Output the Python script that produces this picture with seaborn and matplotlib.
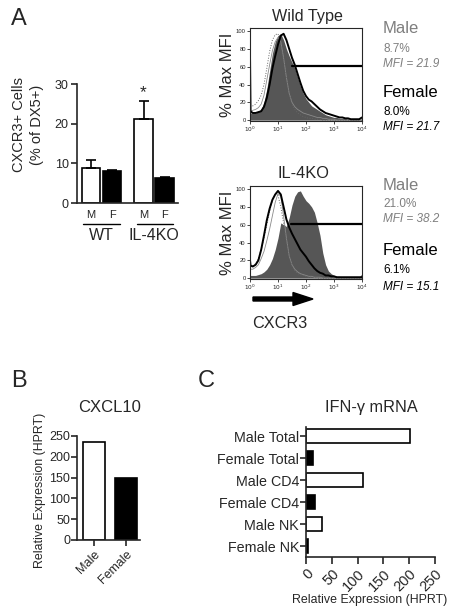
import numpy as np
import matplotlib
matplotlib.use('Agg')
import matplotlib.pyplot as plt
from matplotlib.patches import FancyArrow
import seaborn as sns

# ---- data ------------------------------------------------------------------
# A: CXCR3+ NK cells (% of DX5+)
a_sex = ['M', 'F', 'M', 'F']
cxcr3_pct = [8.8, 8.1, 21.1, 6.2]
cxcr3_sem = [2.0, 0.3, 4.7, 0.4]

# A: flow histograms, x = log10 fluorescence, y = % of max
log_mfi = [0.0, 0.02, 0.1, 0.2, 0.3, 0.4, 0.5, 0.6, 0.7, 0.8, 0.9, 1.0, 1.1, 1.2,
           1.3, 1.4, 1.5, 1.6, 1.7, 1.8, 1.9, 2.0, 2.1, 2.2, 2.3, 2.4, 2.5, 2.6,
           2.7, 2.8, 2.9, 3.0, 3.1, 3.2, 3.3, 3.4, 3.5, 3.6, 3.7, 3.8, 3.9, 4.0]
wt_male = [8, 8, 8, 8, 10, 12, 20, 35, 55, 75, 88, 95, 97, 90, 80, 72, 65, 58, 48, 38, 30,
           24, 20, 16, 14, 12, 10, 8, 6, 5, 4, 3, 3, 2, 2, 2, 1, 1, 1, 1, 1, 1]
wt_female = [73, 10, 8, 8, 9, 10, 15, 25, 40, 58, 72, 85, 95, 97, 90, 80, 70, 62, 52, 42, 33,
             27, 23, 21, 18, 15, 12, 10, 8, 7, 6, 5, 4, 3, 3, 2, 2, 1, 1, 1, 1, 3]
wt_iso_dot = [15, 15, 16, 18, 22, 28, 40, 58, 77, 90, 96, 97, 85, 68, 48, 30, 18, 12, 8, 6, 4,
              3, 2, 2, 1, 1, 1, 0, 0, 0, 0, 0, 0, 0, 0, 0, 0, 0, 0, 0, 0, 0]
wt_iso_thin = [10, 10, 11, 12, 14, 18, 28, 45, 62, 78, 88, 93, 88, 70, 48, 30, 20, 15, 12, 10, 8,
               7, 6, 5, 4, 3, 3, 2, 2, 1, 1, 1, 0, 0, 0, 0, 0, 0, 0, 0, 0, 0]
ko_male = [3, 3, 3, 3, 4, 5, 7, 10, 15, 22, 32, 45, 62, 60, 58, 68, 82, 92, 97, 98, 92,
           87, 84, 80, 74, 62, 48, 28, 15, 8, 5, 3, 2, 2, 1, 1, 1, 1, 1, 1, 1, 5]
ko_female = [20, 14, 13, 15, 20, 32, 48, 65, 78, 88, 94, 98, 94, 80, 66, 57, 50, 44, 38, 32, 28,
             24, 19, 15, 11, 8, 6, 5, 3, 3, 2, 2, 1, 1, 1, 1, 1, 1, 1, 1, 1, 1]
ko_iso_dot = [15, 15, 14, 16, 22, 32, 45, 60, 75, 88, 95, 93, 80, 62, 42, 25, 14, 8, 5, 4, 3,
              2, 1, 1, 1, 0, 0, 0, 0, 0, 0, 0, 0, 0, 0, 0, 0, 0, 0, 0, 0, 0]
ko_iso_thin = [10, 10, 10, 12, 15, 22, 30, 42, 55, 70, 85, 95, 92, 70, 45, 25, 15, 10, 7, 5, 4,
               3, 2, 2, 1, 1, 1, 0, 0, 0, 0, 0, 0, 0, 0, 0, 0, 0, 0, 0, 0, 0]
gate_start = [1.5, 1.45]   # log10, WT / IL-4KO
gate_level = 61

stats_wt = [('Male', '8.7%', 'MFI = 21.9'), ('Female', '8.0%', 'MFI = 21.7')]
stats_ko = [('Male', '21.0%', 'MFI = 38.2'), ('Female', '6.1%', 'MFI = 15.1')]

# B: CXCL10
cxcl10_groups = ['Male', 'Female']
cxcl10_vals = [235, 149]

# C: IFN-g mRNA
ifng_groups = ['Male Total', 'Female Total', 'Male CD4', 'Female CD4', 'Male NK', 'Female NK']
ifng_vals = [201, 13, 110, 17, 31, 3]

# ---- figure ----------------------------------------------------------------
sns.set_style('ticks')
plt.rcParams['font.family'] = ['Liberation Sans', 'DejaVu Sans']
plt.rcParams['axes.linewidth'] = 1.2
plt.rcParams['xtick.major.width'] = 1.2
plt.rcParams['ytick.major.width'] = 1.2

W, H = 454, 613
fig = plt.figure(figsize=(W / 100, H / 100), dpi=100)


def box(l, t, r, b):
    return [l / W, 1 - b / H, (r - l) / W, (b - t) / H]


def ftext(x, y, s, **kw):
    fig.text(x / W, 1 - y / H, s, **kw)


# panel letters
ftext(11, 25, 'A', fontsize=17, va='baseline')
ftext(11, 387, 'B', fontsize=17, va='baseline')
ftext(198, 387, 'C', fontsize=17, va='baseline')

# ---- A bar chart -----------------------------------------------------------
a_pos = [0, 1, 2.5, 3.5]
axA = fig.add_axes(box(77, 84, 178, 203))
sns.barplot(x=a_pos, y=cxcr3_pct, hue=a_sex, palette={'M': 'white', 'F': 'black'},
            native_scale=True, dodge=False, width=0.9, edgecolor='black', linewidth=1.2,
            errorbar=None, legend=False, ax=axA)
axA.errorbar(a_pos, cxcr3_pct, yerr=[[0] * 4, cxcr3_sem], fmt='none', ecolor='black',
             elinewidth=1.2, capsize=3.5, capthick=1.2, zorder=1)
axA.set_xlim(-0.667, 4.14)
axA.set_ylim(0, 30)
axA.set_yticks([0, 10, 20, 30])
axA.set_xticks(a_pos, a_sex)
axA.tick_params(axis='x', length=0, pad=5, labelsize=8)
axA.tick_params(axis='y', length=4, pad=2, labelsize=9)
axA.set_xlabel('')
axA.set_ylabel('')
sns.despine(ax=axA)
trA = axA.get_xaxis_transform()
for lo, hi, mid, name in [(-0.38, 1.38, 0.5, 'WT'), (2.19, 3.9, 3.0, 'IL-4KO')]:
    axA.plot([lo, hi], [-0.176, -0.176], transform=trA, clip_on=False, color='black', lw=1)
    axA.text(mid, -0.311, name, transform=trA, ha='center', va='baseline', fontsize=11.5)
axA.text(2.5, 26.7, '*', ha='center', va='baseline', fontsize=12.5)
ftext(28, 125, 'CXCR3+ Cells\n(% of DX5+)', rotation=90, ha='center', va='center',
      fontsize=10.5, linespacing=1.35)


# ---- A histograms ----------------------------------------------------------
def draw_hist(ax, male, female, iso_dot, iso_thin, gate_from):
    x = 10 ** np.array(log_mfi)
    ax.fill_between(x, 0, male, color='#565656', lw=0)
    sns.lineplot(x=x, y=iso_thin, ax=ax, color='#8a8a8a', lw=0.6)
    sns.lineplot(x=x, y=iso_dot, ax=ax, color='#666666', lw=0.7, linestyle=':')
    sns.lineplot(x=x, y=female, ax=ax, color='black', lw=1.4)
    ax.plot([10 ** gate_from, 1e4], [gate_level, gate_level], color='black', lw=1.6)
    ax.set_xscale('log')
    ax.set_xlim(1, 1e4)
    ax.set_ylim(-1, 103.5)
    ax.minorticks_off()
    ax.set_xticks([1, 10, 100, 1000, 10000],
                  ['$10^0$', '$10^1$', '$10^2$', '$10^3$', '$10^4$'])
    ax.set_yticks([0, 20, 40, 60, 80, 100])
    ax.tick_params(length=2, width=0.6, pad=1, labelsize=4.2)
    for sp in ax.spines.values():
        sp.set_linewidth(0.8)
    ax.set_xlabel('')
    ax.set_ylabel('')


axW = fig.add_axes(box(250, 28, 362, 121))
draw_hist(axW, wt_male, wt_female, wt_iso_dot, wt_iso_thin, gate_start[0])
axK = fig.add_axes(box(250, 186, 362, 279))
draw_hist(axK, ko_male, ko_female, ko_iso_dot, ko_iso_thin, gate_start[1])

ftext(307, 21, 'Wild Type', ha='center', va='baseline', fontsize=11.6)
ftext(303, 178, 'IL-4KO', ha='center', va='baseline', fontsize=11.8)
ftext(228, 75, '% Max MFI', rotation=90, ha='center', va='center', fontsize=12)
ftext(228, 233, '% Max MFI', rotation=90, ha='center', va='center', fontsize=12)

for stats, ys in [(stats_wt, [33, 52, 67, 97, 115, 130]), (stats_ko, [190, 207, 222, 255, 273, 290])]:
    for i, (sex, pct, mfi) in enumerate(stats):
        col = '#7f7f7f' if sex == 'Male' else 'black'
        ftext(383, ys[3 * i], sex, fontsize=12, color=col, va='baseline')
        ftext(383, ys[3 * i + 1], pct, fontsize=8.5, color=col, va='baseline')
        ftext(383, ys[3 * i + 2], mfi, fontsize=8.5, color=col, va='baseline', style='italic')

fig.add_artist(FancyArrow(2.53, (H - 299) / 100, 0.60, 0, width=0.04, head_width=0.13,
                          head_length=0.2, length_includes_head=True, color='black',
                          transform=fig.dpi_scale_trans))
ftext(280, 328, 'CXCR3', ha='center', va='baseline', fontsize=11.7)

# ---- B ---------------------------------------------------------------------
axB = fig.add_axes(box(77, 436, 140, 540))
sns.barplot(x=cxcl10_groups, y=cxcl10_vals, hue=cxcl10_groups, palette=['white', 'black'],
            width=0.68, edgecolor='black', linewidth=1.2, errorbar=None, legend=False, ax=axB)
axB.set_xlim(-0.53, 1.44)
axB.set_ylim(0, 250)
axB.set_yticks([0, 50, 100, 150, 200, 250])
axB.tick_params(axis='y', length=4, pad=1, labelsize=9)
axB.tick_params(axis='x', length=4, pad=2, labelsize=9)
plt.setp(axB.get_xticklabels(), rotation=45, ha='right', rotation_mode='anchor')
axB.set_xlabel('')
axB.set_ylabel('')
sns.despine(ax=axB)
ftext(110, 412, 'CXCL10', ha='center', va='baseline', fontsize=12)
ftext(40, 490, 'Relative Expression (HPRT)', rotation=90, ha='center', va='center', fontsize=8.9)

# ---- C ---------------------------------------------------------------------
axC = fig.add_axes(box(306, 427, 435, 557))
sns.barplot(x=ifng_vals, y=ifng_groups, hue=ifng_groups, palette=['white', 'black'] * 3,
            orient='h', width=0.68, edgecolor='black', linewidth=1.2, errorbar=None,
            legend=False, ax=axC)
axC.set_xlim(0, 250)
axC.set_ylim(5.5, -0.41)
axC.set_xticks([0, 50, 100, 150, 200, 250])
axC.tick_params(axis='y', length=4, pad=1, labelsize=10.3)
axC.tick_params(axis='x', length=5, pad=2, labelsize=10.5)
plt.setp(axC.get_xticklabels(), rotation=45, ha='right', rotation_mode='anchor')
axC.set_xlabel('')
axC.set_ylabel('')
sns.despine(ax=axC)
ftext(371, 412, 'IFN-γ mRNA', ha='center', va='baseline', fontsize=11.7)
ftext(370, 603, 'Relative Expression (HPRT)', ha='center', va='baseline', fontsize=8.9)

fig.savefig('out.png', dpi=100)
